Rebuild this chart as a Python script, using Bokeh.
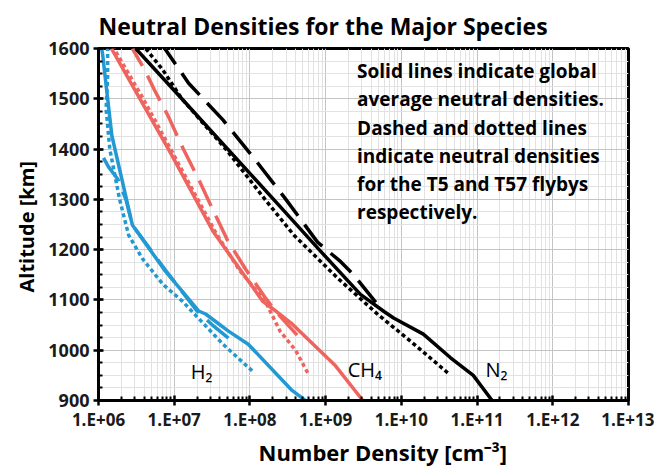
from bokeh.plotting import figure
from bokeh.models import FixedTicker, CustomJSTickFormatter, Label, Title
from bokeh.embed import file_html
from bokeh.resources import INLINE

# ---------------- data ----------------
x_ticks = [1e6, 1e7, 1e8, 1e9, 1e10, 1e11, 1e12, 1e13]
x_tick_labels = ["1.E+06", "1.E+07", "1.E+08", "1.E+09", "1.E+10", "1.E+11", "1.E+12", "1.E+13"]
y_ticks = [900, 1000, 1100, 1200, 1300, 1400, 1500, 1600]

# N2
n2_avg_alt = [900, 950, 985, 1032, 1064, 1077, 1111, 1200, 1275, 1400, 1500, 1600]
n2_avg_n = [1.58e11, 8.9e10, 4.47e10, 1.95e10, 7.9e9, 5.9e9, 2.88e9, 8.2e8, 2.9e8, 5.1e7, 1.26e7, 3.1e6]
n2_t5_alt = [1095, 1150, 1176, 1215, 1301, 1379, 1458, 1531, 1600]
n2_t5_n = [4.6e9, 2.34e9, 1.58e9, 7.8e8, 2.95e8, 1.17e8, 4.4e7, 1.55e7, 7.5e6]
n2_t57_alt = [955, 1018, 1071, 1143, 1229, 1300, 1400, 1500, 1557, 1600]
n2_t57_n = [4.1e10, 1.32e10, 4.9e9, 1.45e9, 3.8e8, 1.58e8, 4.8e7, 1.26e7, 7.1e6, 4.2e6]

# CH4
ch4_avg_alt = [900, 969, 1054, 1080, 1097, 1235, 1393, 1600]
ch4_avg_n = [3.1e9, 1.35e9, 3.5e8, 2.1e8, 1.48e8, 3.3e7, 8.9e6, 1.48e6]
ch4_t5_alt = [1030, 1077, 1103, 1162, 1220, 1281, 1340, 1400, 1466, 1517, 1557, 1600]
ch4_t5_n = [4.2e8, 2.2e8, 1.62e8, 8.7e7, 5.0e7, 3.2e7, 2.1e7, 1.32e7, 8.3e6, 5.5e6, 4.1e6, 2.8e6]
ch4_t57_alt = [955, 1000, 1038, 1097, 1160, 1235, 1393, 1500, 1600]
ch4_t57_n = [5.8e8, 4.0e8, 2.5e8, 1.6e8, 7.2e7, 3.5e7, 9.5e6, 3.9e6, 1.6e6]

# H2
h2_avg_alt = [900, 920, 1012, 1038, 1072, 1078, 1160, 1249, 1427, 1590, 1600]
h2_avg_n = [5.4e8, 3.6e8, 9.5e7, 5.2e7, 2.6e7, 2.1e7, 7.4e6, 2.8e6, 1.5e6, 1.13e6, 1.1e6]
h2_t5_alt = [1024, 1050, 1078, 1160, 1249, 1300, 1340, 1365, 1387]
h2_t5_n = [5.2e7, 3.2e7, 2.0e7, 7.6e6, 2.8e6, 2.3e6, 1.8e6, 1.35e6, 1.12e6]
h2_t57_alt = [959, 1012, 1097, 1131, 1182, 1229, 1300, 1400, 1480, 1545, 1600]
h2_t57_n = [1.07e8, 4.4e7, 1.29e7, 7.1e6, 3.8e6, 2.5e6, 1.9e6, 1.41e6, 1.26e6, 1.32e6, 1.32e6]

annotation_lines = [
    "Solid lines indicate global",
    "average neutral densities.",
    "Dashed and dotted lines",
    "indicate neutral densities",
    "for the T5 and T57 flybys",
    "respectively.",
]

# ---------------- styles ----------------
BLACK = "#000000"
RED = "#EE6560"
BLUE = "#2399D4"
FONT = "Open Sans"
LW = 3.5
DASH = "28 11"
DOT = "4 3"

p = figure(width=654, height=470, x_axis_type="log",
           x_range=(1e6, 1e13), y_range=(900, 1600),
           output_backend="svg", toolbar_location=None,
           min_border_left=98, min_border_right=26,
           min_border_top=45, min_border_bottom=70,
           background_fill_color="white", border_fill_color="white")

# title
p.title.text = "Neutral Densities for the Major Species"
p.title.text_font = FONT
p.title.text_font_size = "23px"
p.title.text_font_style = "bold"
p.title.align = "left"
p.title.offset = 0
p.title.standoff = 14
p.title.text_color = "black"

# tickers
x_minor = [m * t for t in x_ticks[:-1] for m in range(2, 10)]
y_minor = list(range(900, 1601, 25))
xt = FixedTicker(ticks=x_ticks, minor_ticks=x_minor)
yt = FixedTicker(ticks=y_ticks, minor_ticks=y_minor)
p.xaxis.ticker = xt
p.yaxis.ticker = yt
p.xgrid.ticker = xt
p.ygrid.ticker = yt
p.xaxis.formatter = CustomJSTickFormatter(args=dict(labels=x_tick_labels),
                                          code="return labels[Math.round(Math.log10(tick)) - 6];")

for ax in (p.xaxis[0], p.yaxis[0]):
    ax.axis_line_color = "black"
    ax.axis_line_width = 3
    ax.major_tick_line_color = "black"
    ax.major_tick_line_width = 2.5
    ax.major_tick_in = 5
    ax.major_tick_out = 5
    ax.minor_tick_line_color = "black"
    ax.minor_tick_line_width = 2
    ax.minor_tick_in = 4
    ax.minor_tick_out = 0
    ax.major_label_text_font = FONT
    ax.major_label_text_font_style = "bold"
    ax.major_label_text_color = "#1a1a1a"

p.xaxis.major_label_text_font_size = "17px"
p.yaxis.major_label_text_font_size = "18px"
p.xaxis.major_label_standoff = 2
p.yaxis.major_label_standoff = 4

# axis titles as side titles (placed slightly off-centre like the reference)
xlab = Title(text="Number Density [cm\u207B\u00B3]", align="left", offset=160, standoff=3,
             text_font=FONT, text_font_size="22px", text_font_style="bold", text_color="black")
p.add_layout(xlab, "below")
ylab = Title(text="Altitude [km]", align="left", offset=108, standoff=12,
             text_font=FONT, text_font_size="20px", text_font_style="bold", text_color="black")
p.add_layout(ylab, "left")

p.xgrid.grid_line_color = "#c4c4c4"
p.ygrid.grid_line_color = "#c4c4c4"
p.xgrid.grid_line_width = 1
p.ygrid.grid_line_width = 1
p.xgrid.minor_grid_line_color = "#e2e2e2"
p.ygrid.minor_grid_line_color = "#e2e2e2"
p.xgrid.minor_grid_line_width = 1
p.ygrid.minor_grid_line_width = 1

p.outline_line_color = "black"
p.outline_line_width = 3
p.outline_line_alpha = 1

# series
series = [
    (h2_avg_n, h2_avg_alt, BLUE, "solid"),
    (h2_t5_n, h2_t5_alt, BLUE, DASH),
    (h2_t57_n, h2_t57_alt, BLUE, DOT),
    (ch4_avg_n, ch4_avg_alt, RED, "solid"),
    (ch4_t5_n, ch4_t5_alt, RED, DASH),
    (ch4_t57_n, ch4_t57_alt, RED, DOT),
    (n2_avg_n, n2_avg_alt, BLACK, "solid"),
    (n2_t5_n, n2_t5_alt, BLACK, DASH),
    (n2_t57_n, n2_t57_alt, BLACK, DOT),
]
for xs, ys, c, d in series:
    p.line(xs, ys, line_color=c, line_width=LW, line_dash=d, line_join="round")

# species labels
for txt, lx, ly in [("H\u2082", 2.3e7, 958), ("CH\u2084", 3.3e9, 962), ("N\u2082", 1.8e11, 962)]:
    p.add_layout(Label(x=lx, y=ly, text=txt, text_font=FONT, text_font_size="20px",
                       text_align="center", text_baseline="middle", text_color="black"))

# annotation text
for i, line in enumerate(annotation_lines):
    p.add_layout(Label(x=2.6e9, y=1555 - 56.2 * i, text=line, text_font=FONT,
                       text_font_size="19px", text_font_style="bold",
                       text_align="left", text_baseline="middle", text_color="black"))

open("out.html", "w").write(file_html(p, INLINE))
